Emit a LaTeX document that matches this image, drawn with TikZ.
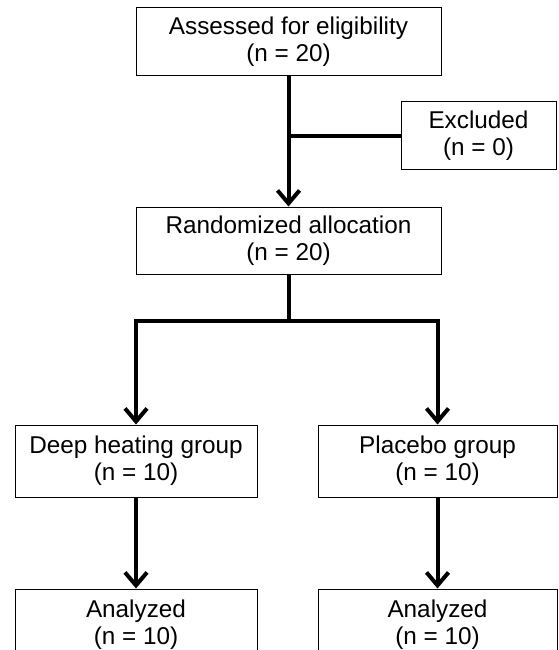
\documentclass[tikz,border=0pt]{standalone}
\usepackage{fontspec}
\setmainfont{Liberation Sans}
\usetikzlibrary{arrows.meta}
\tikzset{
  box/.style={draw=black, line width=1pt, fill=white, align=center, inner sep=0pt,
    font=\fontsize{24.3}{27}\selectfont},
  conn/.style={line width=4pt, draw=black},
  arr/.style={conn, -{Straight Barb[length=13pt,width=22pt,line width=4pt]}},
}
\begin{document}
\begin{tikzpicture}[x=1pt,y=-1pt]
\clip (0,0) rectangle (558,650);
\fill[white] (0,0) rectangle (558,650);
\node[box, minimum width=305pt, minimum height=68pt] (top) at (288.5,42) {Assessed for eligibility\\(n = 20)};
\node[box, minimum width=155pt, minimum height=67pt] (excl) at (478.5,135.5) {Excluded\\(n = 0)};
\node[box, minimum width=305pt, minimum height=67pt] (rand) at (288.5,240.5) {Randomized allocation\\(n = 20)};
\node[box, minimum width=242pt, minimum height=72pt] (deep) at (136,461) {Deep heating group\\(n = 10)};
\node[box, minimum width=239pt, minimum height=72pt] (plac) at (437.5,461) {Placebo group\\(n = 10)};
\node[box, minimum width=242pt, minimum height=72pt] (an1) at (136,625) {Analyzed\\(n = 10)};
\node[box, minimum width=239pt, minimum height=72pt] (an2) at (437.5,625) {Analyzed\\(n = 10)};
\coordinate (split) at (288.5,321);
\draw[arr] (top.south) -- (rand.north);
\draw[conn] (excl.west) -- (excl.west -| top.south);
\draw[conn] (rand.south) -- (split);
\draw[arr] (split) -| (deep.north);
\draw[arr] (split) -| (plac.north);
\draw[arr] (deep.south) -- (an1.north);
\draw[arr] (plac.south) -- (an2.north);
\end{tikzpicture}
\end{document}
